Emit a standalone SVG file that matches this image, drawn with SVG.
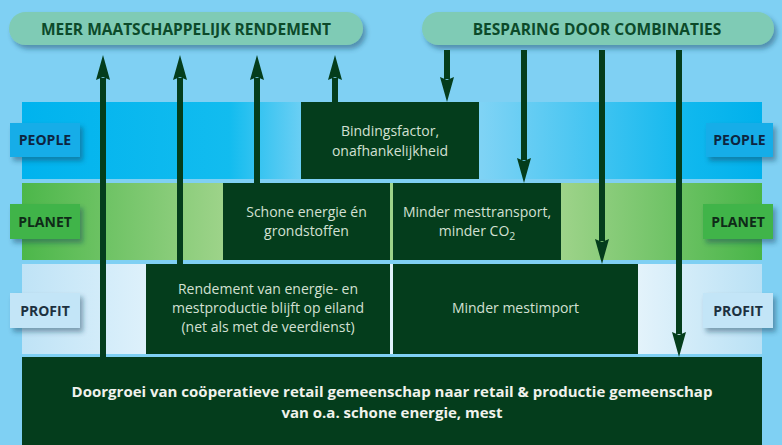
<svg xmlns="http://www.w3.org/2000/svg" width="782" height="445" viewBox="0 0 782 445">
  <defs>
    <linearGradient id="gPeople" x1="22" y1="0" x2="762" y2="0" gradientUnits="userSpaceOnUse">
      <stop offset="0" stop-color="#00b3ee"/>
      <stop offset="0.28" stop-color="#12bcef"/>
      <stop offset="0.40" stop-color="#7fd3f5"/>
      <stop offset="0.62" stop-color="#7fd3f5"/>
      <stop offset="0.90" stop-color="#10b8ee"/>
      <stop offset="1" stop-color="#00b1ec"/>
    </linearGradient>
    <linearGradient id="gPlanet" x1="22" y1="0" x2="762" y2="0" gradientUnits="userSpaceOnUse">
      <stop offset="0" stop-color="#4cb74a"/>
      <stop offset="0.27" stop-color="#9dd389"/>
      <stop offset="0.73" stop-color="#9dd389"/>
      <stop offset="1" stop-color="#48b548"/>
    </linearGradient>
    <linearGradient id="gProfit" x1="22" y1="0" x2="762" y2="0" gradientUnits="userSpaceOnUse">
      <stop offset="0" stop-color="#bfe3f6"/>
      <stop offset="0.17" stop-color="#def1fb"/>
      <stop offset="0.83" stop-color="#e4f3fb"/>
      <stop offset="1" stop-color="#b9e1f5"/>
    </linearGradient>
    <filter id="shadow" x="-20%" y="-30%" width="140%" height="180%">
      <feDropShadow dx="3" dy="4" stdDeviation="2.5" flood-color="#1b3f5a" flood-opacity="0.45"/>
    </filter>
    <marker id="head" markerUnits="userSpaceOnUse" markerWidth="26" markerHeight="16" viewBox="0 -8 26 16" refX="2" refY="0" orient="auto">
      <path d="M0,-7 L25,0 L0,7 L3,0 Z" fill="#043d1c"/>
    </marker>
    <style>
      .pill { fill: #7fcbb5; }
      .pilltxt { font-family: "Open Sans", "Liberation Sans", sans-serif; font-weight: bold; font-size: 15.5px; fill: #0c4a2a; text-anchor: middle; }
      .lbl { font-family: "Open Sans", "Liberation Sans", sans-serif; font-weight: bold; font-size: 14px; text-anchor: middle; }
      .box { fill: #043d1c; }
      .boxtxt { font-family: "Open Sans", "Liberation Sans", sans-serif; font-size: 14px; fill: #d3e0d3; text-anchor: middle; }
      .bigtxt { font-family: "Open Sans", "Liberation Sans", sans-serif; font-weight: bold; font-size: 15px; fill: #f0f2ec; text-anchor: middle; }
      .arrow { stroke: #043d1c; stroke-width: 6; fill: none; marker-end: url(#head); }
    </style>
  </defs>

  <rect x="0" y="0" width="782" height="445" fill="#7fd0f3"/>

  <!-- bands -->
  <g id="bands">
    <rect x="22" y="102" width="740" height="77" fill="url(#gPeople)"/>
    <rect x="22" y="183" width="740" height="77" fill="url(#gPlanet)"/>
    <rect x="22" y="264" width="740" height="90" fill="url(#gProfit)"/>
  </g>

  <!-- pills -->
  <g id="pill-rendement">
    <rect class="pill" x="9" y="12" width="354" height="33" rx="16.5" filter="url(#shadow)"/>
    <text class="pilltxt" x="186" y="34.5">MEER MAATSCHAPPELIJK RENDEMENT</text>
  </g>
  <g id="pill-besparing">
    <rect class="pill" x="422" y="12" width="352" height="33" rx="16.5" filter="url(#shadow)"/>
    <text class="pilltxt" x="597" y="34.5">BESPARING DOOR COMBINATIES</text>
  </g>

  <!-- labels -->
  <g id="people-left">
    <rect x="10" y="123" width="70" height="34" fill="#12ade8" filter="url(#shadow)"/>
    <text class="lbl" x="45" y="145" fill="#0d2540">PEOPLE</text>
  </g>
  <g id="planet-left">
    <rect x="10" y="204" width="70" height="35" fill="#40b449" filter="url(#shadow)"/>
    <text class="lbl" x="45" y="226.5" fill="#0f2a18">PLANET</text>
  </g>
  <g id="profit-left">
    <rect x="10" y="293" width="70" height="35" fill="#c3e5f7" filter="url(#shadow)"/>
    <text class="lbl" x="45" y="315.5" fill="#1d3140">PROFIT</text>
  </g>
  <g id="people-right">
    <rect x="706" y="123" width="67" height="34" fill="#12ade8" filter="url(#shadow)"/>
    <text class="lbl" x="739.5" y="145" fill="#0d2540">PEOPLE</text>
  </g>
  <g id="planet-right">
    <rect x="703" y="204" width="70" height="35" fill="#40b449" filter="url(#shadow)"/>
    <text class="lbl" x="738" y="226.5" fill="#0f2a18">PLANET</text>
  </g>
  <g id="profit-right">
    <rect x="703" y="293" width="70" height="35" fill="#c3e5f7" filter="url(#shadow)"/>
    <text class="lbl" x="738" y="315.5" fill="#1d3140">PROFIT</text>
  </g>

  <!-- dark boxes -->
  <g id="bindingsfactor">
    <rect class="box" x="301" y="102" width="178" height="77"/>
    <text class="boxtxt" x="390" y="136">Bindingsfactor,</text>
    <text class="boxtxt" x="390" y="156">onafhankelijkheid</text>
  </g>
  <g id="schone-energie">
    <rect class="box" x="223" y="183" width="167" height="77"/>
    <text class="boxtxt" x="306.5" y="217">Schone energie én</text>
    <text class="boxtxt" x="306.5" y="236">grondstoffen</text>
  </g>
  <g id="minder-mesttransport">
    <rect class="box" x="393" y="183" width="168" height="77"/>
    <text class="boxtxt" x="477" y="217">Minder mesttransport,</text>
    <text class="boxtxt" x="477" y="236">minder CO<tspan dy="4" font-size="10.5">2</tspan></text>
  </g>
  <g id="rendement">
    <rect class="box" x="146" y="264" width="244" height="90"/>
    <text class="boxtxt" x="268" y="294">Rendement van energie- en</text>
    <text class="boxtxt" x="268" y="313">mestproductie blijft op eiland</text>
    <text class="boxtxt" x="268" y="332">(net als met de veerdienst)</text>
  </g>
  <g id="minder-mestimport">
    <rect class="box" x="393" y="264" width="245" height="90"/>
    <text class="boxtxt" x="515.5" y="313">Minder mestimport</text>
  </g>
  <g id="doorgroei">
    <rect class="box" x="22" y="357" width="740" height="88"/>
    <text class="bigtxt" x="392" y="397">Doorgroei van coöperatieve retail gemeenschap naar retail &amp; productie gemeenschap</text>
    <text class="bigtxt" x="392" y="418">van o.a. schone energie, mest</text>
  </g>

  <!-- connectors -->
  <g id="connectors">
    <line class="arrow" x1="103" y1="357" x2="103" y2="78"/>
    <line class="arrow" x1="180" y1="264" x2="180" y2="78"/>
    <line class="arrow" x1="257" y1="183" x2="257" y2="78"/>
    <line class="arrow" x1="335" y1="102" x2="335" y2="78"/>
    <line class="arrow" x1="447" y1="50" x2="447" y2="79"/>
    <line class="arrow" x1="524" y1="50" x2="524" y2="160"/>
    <line class="arrow" x1="602" y1="50" x2="602" y2="241"/>
    <line class="arrow" x1="679" y1="50" x2="679" y2="334"/>
  </g>
</svg>
